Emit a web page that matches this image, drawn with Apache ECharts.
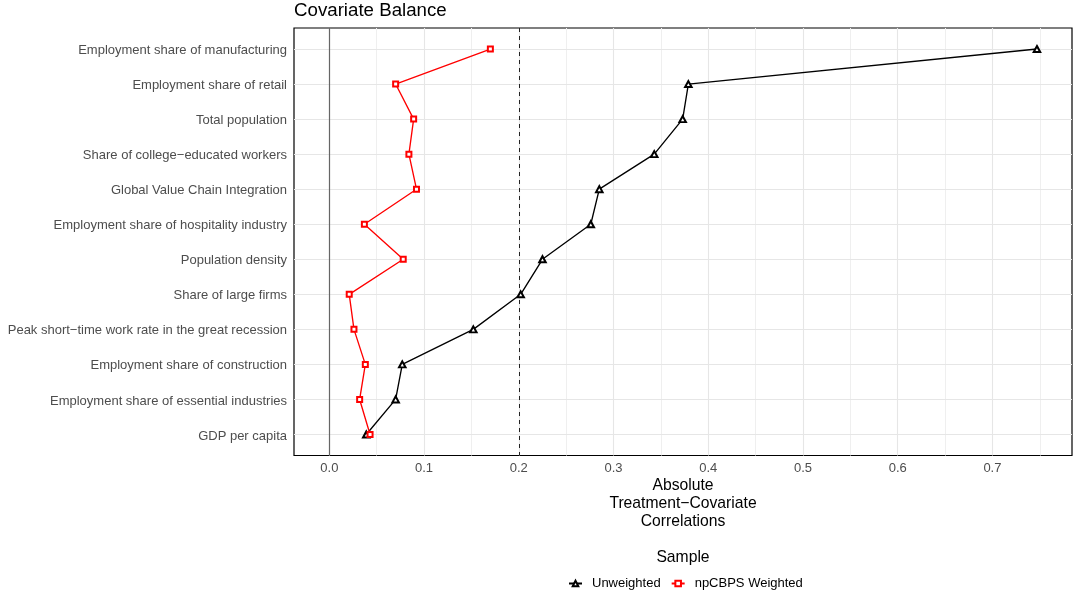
<!DOCTYPE html>
<html>
<head>
<meta charset="utf-8">
<script src="https://cdn.jsdelivr.net/npm/echarts@6/dist/echarts.min.js"></script>
<style>
  html, body { margin: 0; padding: 0; background: #fff; }
  #chart { width: 1073px; height: 591px; }
</style>
</head>
<body>
<div id="chart"></div>
<script>
// Covariates, listed top to bottom
const covariates = [
  'Employment share of manufacturing',
  'Employment share of retail',
  'Total population',
  'Share of college\u2212educated workers',
  'Global Value Chain Integration',
  'Employment share of hospitality industry',
  'Population density',
  'Share of large firms',
  'Peak short\u2212time work rate in the great recession',
  'Employment share of construction',
  'Employment share of essential industries',
  'GDP per capita'
];

// Absolute treatment-covariate correlations
const unweighted = [0.747, 0.379, 0.373, 0.343, 0.285, 0.276, 0.225, 0.202, 0.152, 0.077, 0.070, 0.039];
const npcbpsWeighted = [0.170, 0.070, 0.089, 0.084, 0.092, 0.037, 0.078, 0.021, 0.026, 0.038, 0.032, 0.043];

// Axis breaks
const xBreaks = [0, 0.1, 0.2, 0.3, 0.4, 0.5, 0.6, 0.7];
const xMinorBreaks = [0.05, 0.15, 0.25, 0.35, 0.45, 0.55, 0.65, 0.75];
const threshold = 0.2;

const FONT = '"Liberation Sans", Arial, Helvetica, sans-serif';
const rows = covariates.map((_, i) => i + 1);

const toPoints = vals => vals.map((v, i) => [v, i + 1]);

const gridLines = []
  .concat(xMinorBreaks.map(v => ({ xAxis: v, lineStyle: { color: '#EFEFEF', width: 1, type: 'solid' } })))
  .concat(xBreaks.map(v => ({ xAxis: v, lineStyle: { color: '#E6E6E6', width: 1.1, type: 'solid' } })))
  .concat(rows.map(r => ({ yAxis: r, lineStyle: { color: '#E6E6E6', width: 1.1, type: 'solid' } })))
  .concat([
    { xAxis: 0, lineStyle: { color: '#666666', width: 1.2, type: 'solid' } },
    { xAxis: threshold, lineStyle: { color: '#222', width: 1, type: [4, 4] } }
  ]);

const chart = echarts.init(document.getElementById('chart'), null, { renderer: 'canvas' });

chart.setOption({
  animation: false,
  backgroundColor: '#fff',
  textStyle: { fontFamily: FONT },
  grid: {
    left: 294, right: 1, top: 28, bottom: 135.5,
    show: true, borderColor: '#000', borderWidth: 1.2, backgroundColor: 'transparent',
    containLabel: false
  },
  xAxis: {
    type: 'value',
    min: -0.0373,
    max: 0.784,
    axisLine: { show: false },
    axisTick: { show: false },
    splitLine: { show: false },
    axisLabel: {
      customValues: xBreaks,
      formatter: v => v.toFixed(1),
      color: '#4D4D4D', fontSize: 13, margin: 6, fontFamily: FONT
    },
    name: 'Absolute\nTreatment\u2212Covariate\nCorrelations',
    nameLocation: 'middle',
    nameGap: 21,
    nameMoveOverlap: false,
    nameTextStyle: { color: '#000', fontSize: 15.7, lineHeight: 18, fontFamily: FONT, verticalAlign: 'top' }
  },
  yAxis: {
    type: 'value',
    min: 0.4,
    max: 12.6,
    inverse: true,
    axisLine: { show: false },
    axisTick: { show: false },
    splitLine: { show: false },
    axisLabel: {
      customValues: rows,
      formatter: v => '{t|' + covariates[Math.round(v) - 1] + '}',
      margin: 7,
      rich: {
        t: { color: '#4D4D4D', fontSize: 13, fontFamily: FONT, padding: [3, 0, 0, 0] }
      }
    }
  },
  legend: {
    data: ['Unweighted', 'npCBPS Weighted'],
    left: 563,
    top: 572,
    itemWidth: 13,
    itemHeight: 7,
    itemGap: 10,
    textStyle: { color: '#000', fontSize: 13, fontFamily: FONT, padding: [0, 0, 0, 5] }
  },
  graphic: [
    {
      type: 'text', x: 294, y: 11,
      style: { text: 'Covariate Balance', fill: '#000', font: '18.7px ' + FONT, verticalAlign: 'middle', align: 'left' }
    },
    {
      type: 'text', x: 683, y: 558,
      style: { text: 'Sample', fill: '#000', font: '15.7px ' + FONT, verticalAlign: 'middle', align: 'center' }
    }
  ],
  series: [
    {
      name: 'grid',
      type: 'line',
      data: [],
      z: 1,
      silent: true,
      markLine: {
        silent: true,
        z: 1,
        symbol: ['none', 'none'],
        label: { show: false },
        emphasis: { disabled: true },
        animation: false,
        data: gridLines
      }
    },
    {
      name: 'Unweighted',
      type: 'line',
      z: 10,
      data: toPoints(unweighted),
      symbol: 'emptyTriangle',
      symbolSize: [6.5, 6],
      lineStyle: { color: '#000', width: 1.35 },
      itemStyle: { color: '#000', borderColor: '#000', borderWidth: 0.9 }
    },
    {
      name: 'npCBPS Weighted',
      type: 'line',
      z: 11,
      data: toPoints(npcbpsWeighted),
      symbol: 'emptyRect',
      symbolSize: 5,
      lineStyle: { color: '#FF0000', width: 1.35 },
      itemStyle: { color: '#FF0000', borderColor: '#FF0000', borderWidth: 1 }
    }
  ]
});
</script>
</body>
</html>
